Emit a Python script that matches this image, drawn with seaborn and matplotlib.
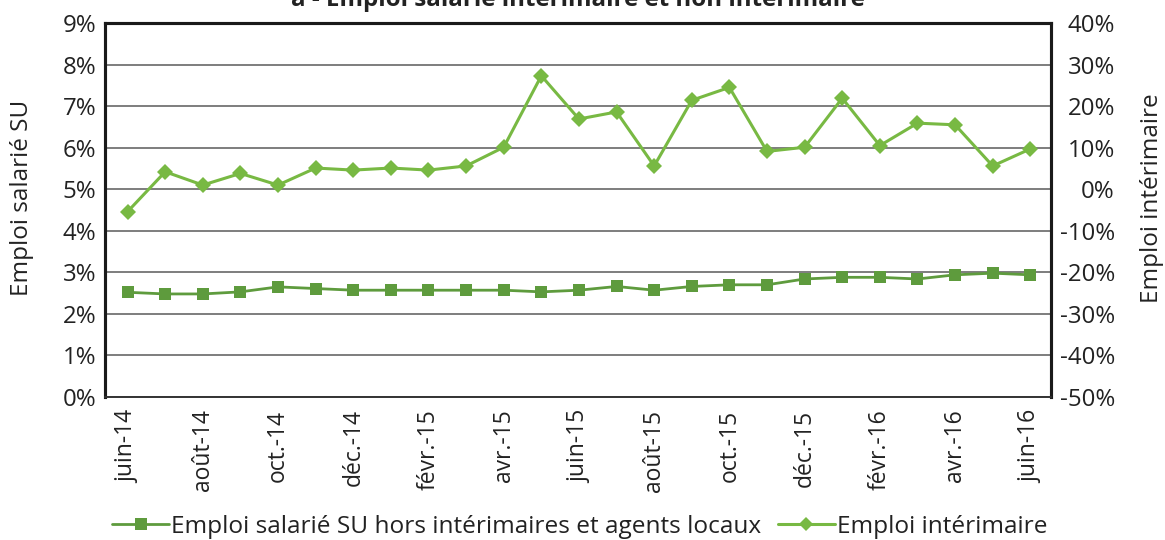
import matplotlib
matplotlib.use("Agg")
import matplotlib.pyplot as plt
import matplotlib.ticker as mticker
import seaborn as sns
import pandas as pd
from matplotlib.lines import Line2D

# Monthly observations, June 2014 to June 2016
months = ["juin-14", "juil.-14", "août-14", "sept.-14", "oct.-14", "nov.-14",
          "déc.-14", "janv.-15", "févr.-15", "mars-15", "avr.-15", "mai-15",
          "juin-15", "juil.-15", "août-15", "sept.-15", "oct.-15", "nov.-15",
          "déc.-15", "janv.-16", "févr.-16", "mars-16", "avr.-16", "mai-16",
          "juin-16"]

# Emploi salarié SU hors intérimaires et agents locaux (left axis, %)
emploi_su = [2.52, 2.48, 2.48, 2.53, 2.65, 2.61, 2.57, 2.57, 2.57, 2.57,
             2.57, 2.53, 2.57, 2.66, 2.57, 2.66, 2.70, 2.70, 2.84, 2.88,
             2.88, 2.84, 2.94, 2.98, 2.94]

# Emploi intérimaire (right axis, %)
emploi_interim = [-5.4, 4.2, 1.0, 3.8, 1.0, 5.1, 4.6, 5.1, 4.6, 5.6,
                  10.1, 27.3, 16.9, 18.6, 5.6, 21.4, 24.5, 9.1, 10.1, 21.9,
                  10.5, 15.9, 15.5, 5.6, 9.7]

label_su = "Emploi salarié SU hors intérimaires et agents locaux"
label_interim = "Emploi intérimaire"
title = "a - Emploi salarié intérimaire et non intérimaire"

dark_green = "#5E9B3D"
light_green = "#78B943"
text_color = "#222222"

sns.set_style("white")
plt.rcParams["font.family"] = ["Open Sans", "DejaVu Sans"]
plt.rcParams["axes.unicode_minus"] = False

df = pd.DataFrame({
    "pos": range(len(months)),
    "mois": months,
    "su": emploi_su,
    "interim": emploi_interim,
})

W, H = 1165, 540
fig = plt.figure(figsize=(W / 100, H / 100), dpi=100)
ax = fig.add_axes([105 / W, 1 - 397 / H, (1051 - 105) / W, (397 - 23) / H])
ax2 = ax.twinx()

sns.lineplot(data=df, x="pos", y="su", ax=ax, color=dark_green, linewidth=2,
             marker="s", markersize=8, markeredgewidth=0, zorder=3)
sns.lineplot(data=df, x="pos", y="interim", ax=ax2, color=light_green, linewidth=2.2,
             marker="D", markersize=8, markeredgewidth=0, zorder=3)

ax.set_xlim(-0.6, len(months) - 0.45)
ax.set_ylim(0, 9)
ax2.set_ylim(-50, 40)
ax.yaxis.set_major_locator(mticker.MultipleLocator(1))
ax2.yaxis.set_major_locator(mticker.MultipleLocator(10))
ax.yaxis.set_major_formatter(mticker.FuncFormatter(lambda v, p: f"{v:.0f}%"))
ax2.yaxis.set_major_formatter(mticker.FuncFormatter(lambda v, p: f"{v:.0f}%"))

ax.set_xticks(df["pos"][::2])
ax.set_xticklabels(df["mois"][::2], rotation=90, fontsize=16.5, color=text_color)
ax.tick_params(axis="x", length=0, pad=9)
ax.tick_params(axis="y", length=0, labelsize=17.3, labelcolor=text_color, pad=6)
ax2.tick_params(axis="y", length=0, labelsize=17.3, labelcolor=text_color, pad=46)
for lbl in ax2.get_yticklabels():
    lbl.set_horizontalalignment("right")

ax.grid(axis="y", color="#5a5a5a", linewidth=1.1)
ax.grid(axis="x", visible=False)
ax2.grid(False)
ax.set_axisbelow(True)

ax.set_xlabel("")
ax.set_ylabel("")
ax2.set_ylabel("")
fig.text(22 / W, 1 - 198 / H, "Emploi salarié SU", rotation=90, ha="center",
         va="center", fontsize=17.5, color=text_color)
fig.text(1152 / W, 1 - 198 / H, "Emploi intérimaire", rotation=90, ha="center",
         va="center", fontsize=17.5, color=text_color)

for a in (ax, ax2):
    for side in ("left", "right", "top"):
        a.spines[side].set_visible(True)
        a.spines[side].set_color("#1a1a1a")
        a.spines[side].set_linewidth(2.2)
    a.spines["bottom"].set_color("#333333")
    a.spines["bottom"].set_linewidth(1.2)

fig.text(578 / W, 1.0, title, ha="center", va="center",
         fontsize=17.4, fontweight="bold", color=text_color)

handles = [
    Line2D([0], [0], color=dark_green, linewidth=2, marker="s", markersize=8,
           markeredgewidth=0),
    Line2D([0], [0], color=light_green, linewidth=2.2, marker="D", markersize=7,
           markeredgewidth=0),
]
fig.legend(handles, [label_su, label_interim], loc="center",
           bbox_to_anchor=(580 / W, 1 - 527 / H), ncol=2, frameon=False,
           fontsize=17.6, handlelength=2.3, handletextpad=0.1, columnspacing=0.7,
           labelcolor=text_color, borderpad=0, borderaxespad=0)

fig.savefig("out.png", dpi=100)
